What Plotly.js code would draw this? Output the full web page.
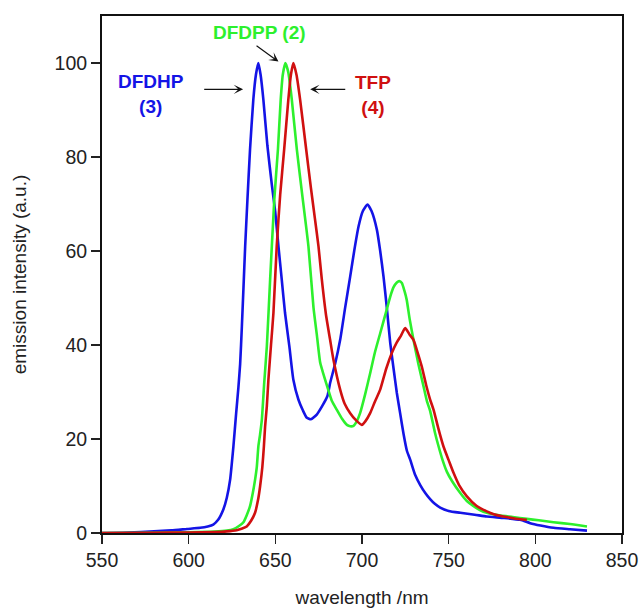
<!DOCTYPE html>
<html>
<head>
<meta charset="utf-8">
<script src="https://cdn.plot.ly/plotly-3.0.1.min.js"></script>
<style>html,body{margin:0;padding:0;background:#fff;}#chart{width:640px;height:608px;}</style>
</head>
<body>
<div id="chart"></div>
<script>
// DFDHP (3) - blue
const dfdhpX = [550,565,580,590,599,606.6,611,614.2,617,620,622,623.9,625.8,627.4,628.7,629.7,630.7,631.6,632.6,633.9,635.4,637.3,638.8,640.2,641.5,643.1,645.4,648,649.9,651.8,653.7,655.6,658.1,660.4,663.3,666,668.2,670.5,673.9,677,680,681.6,684.5,687.4,690.3,693.2,695.5,698,700.5,703.2,705.5,708.6,710.5,712.4,714.3,716.3,718.2,720.1,722,724,725.9,727.8,730.5,733.6,736.5,739.3,742,745.1,750,756.7,765,772,782,791.3,797,803,810.5,820,829.8];
const dfdhpY = [0,0.1,0.35,0.55,0.85,1.1,1.4,1.8,2.8,5,7.5,11.3,18.4,25.5,31,36,44,52,61,70.9,81.6,92.2,97.5,100,97.5,92.2,82.5,74,68.5,61,53.9,46.8,39.7,32.6,28.4,26,24.5,24.2,25.2,27,29.1,31.9,36,41.1,48,54.6,60,65.2,68.5,69.9,68.5,64.5,60,54.6,48,40.4,35,29.8,25.5,21,17.5,15.6,12.5,10.2,8.5,7.2,6.2,5.4,4.7,4.3,3.9,3.5,3.2,2.8,2.1,1.6,1.1,0.8,0.5];

// DFDPP (2) - green
const dfdppX = [550,580,600,615,622,625.8,629,631.6,633.5,635.4,637,638.3,639.3,640.2,641.2,642.2,643.6,645.1,647,649.4,651.5,653.1,654.3,655.8,657.5,659.5,662.4,665.5,669.1,672,674,675.9,678,680.5,682.5,685.5,688.5,691.3,693.2,695.1,697,698.9,701.8,704.7,707.5,710.5,713.5,716.3,718.2,720.1,721.5,723,724.5,725.8,727.5,729.7,732.5,735.5,737.5,739.3,742,744.2,746.5,749,752,756.7,760.5,764.4,768,772,780,787,795.1,802,810.5,820,829.8];
const dfdppY = [0,0.05,0.15,0.3,0.5,0.8,1.5,2.3,3.8,5.7,8.5,11.3,14,18.4,21,24,32,39.7,53.9,70.9,81.6,92.2,97.5,100,98,92.2,81.6,72,61,48,42,36.2,33.5,30.5,28.2,26.2,24.3,23,22.7,22.8,23.8,25.5,29.5,34,38.5,42.5,46.5,50.3,52.3,53.3,53.6,53.2,51.5,49.6,45.5,41.1,36,31.2,28,26,21.5,18.4,15.5,13,11,8.5,6.8,5.7,4.9,4.3,3.7,3.4,3,2.7,2.3,1.9,1.4];

// TFP (4) - red
const tfpX = [550,580,600,615,622,627.7,630.5,633.5,636,638.3,640,641.2,642.5,643.4,644.1,645.1,646,647.5,648.9,650.8,652.8,655.1,657.5,659,660.4,662.2,664.3,667.8,670.5,672.8,674.9,676.8,679.2,681.6,683.5,687.4,690,693.2,696.5,699.9,702,704.7,707.5,710.5,714,717.2,720,722.5,724.9,727.5,729.7,732,734.5,737,739.3,741.3,744,747,750,752.8,756,760.5,766,772,776,781.6,788,795.1];
const tfpY = [0,0.05,0.1,0.2,0.35,0.6,0.9,1.4,2.6,4.3,7,9.9,14,18.4,22.7,27,32.6,40,46.8,61,72,81.6,92.2,97.5,100,97.5,92.2,81.6,73.5,67,61,54,46.5,41.1,36.9,30.5,27.5,25.5,24,23,23.8,25.5,28,30.5,35,38.3,40.5,42,43.6,42.2,41.1,38.5,35.4,31.5,28.4,26.2,22.3,18.4,15.5,12.8,10.2,7.8,5.8,4.6,4,3.5,3.1,2.8];

const xTicks = [550,600,650,700,750,800,850];
const yTicks = [0,20,40,60,80,100];

const BLUE = '#1414e6', GREEN = '#2df02d', RED = '#d01010';
const font = 'Liberation Sans, Arial, sans-serif';

const lineStyle = (c) => ({color: c, width: 2.6, shape: 'spline', smoothing: 0.5});
const traces = [
  {x: dfdhpX, y: dfdhpY, mode: 'lines', line: lineStyle(BLUE), name: 'DFDHP (3)'},
  {x: dfdppX, y: dfdppY, mode: 'lines', line: lineStyle(GREEN), name: 'DFDPP (2)'},
  {x: tfpX, y: tfpY, mode: 'lines', line: lineStyle(RED), name: 'TFP (4)'}
];

const arrowCommon = {xref: 'x', yref: 'y', axref: 'x', ayref: 'y', showarrow: true, arrowhead: 3, arrowsize: 1.3, arrowwidth: 1.2, arrowcolor: '#111', text: ''};

const layout = {
  width: 640, height: 608,
  margin: {l: 102, r: 18, t: 16, b: 75},
  paper_bgcolor: '#fff', plot_bgcolor: '#fff',
  showlegend: false,
  font: {family: font, size: 19, color: '#222'},
  xaxis: {
    range: [550, 850], tickvals: xTicks, ticks: 'outside', ticklen: 9, tickwidth: 1.5, tickcolor: '#222',
    showline: true, mirror: true, linewidth: 2, linecolor: '#111', showgrid: false, zeroline: false,
    tickfont: {size: 19.5, color: '#222'},
    title: {text: 'wavelength /nm', font: {size: 19, color: '#222'}, standoff: 26}
  },
  yaxis: {
    range: [0, 110], tickvals: yTicks, ticks: 'outside', ticklen: 9, tickwidth: 1.5, tickcolor: '#222',
    showline: true, mirror: true, linewidth: 2, linecolor: '#111', showgrid: false, zeroline: false,
    tickfont: {size: 19.5, color: '#222'},
    title: {text: 'emission intensity (a.u.)', font: {size: 19, color: '#222'}, standoff: 23}
  },
  annotations: [
    {xref: 'x', yref: 'y', x: 578.3, y: 93.3, text: '<b>DFDHP</b><br><b>(3)</b>', showarrow: false, font: {size: 19, color: BLUE, family: font}},
    {xref: 'x', yref: 'y', x: 640.9, y: 106.4, text: '<b>DFDPP (2)</b>', showarrow: false, font: {size: 19, color: GREEN, family: font}},
    {xref: 'x', yref: 'y', x: 706.6, y: 93.1, text: '<b>TFP</b><br><b>(4)</b>', showarrow: false, font: {size: 19, color: RED, family: font}},
    Object.assign({}, arrowCommon, {x: 631.4, y: 94.4, ax: 608.1, ay: 94.4}),
    Object.assign({}, arrowCommon, {x: 651.8, y: 100.3, ax: 638.3, ay: 103.9}),
    Object.assign({}, arrowCommon, {x: 670.1, y: 94.4, ax: 691.2, ay: 94.4})
  ]
};

Plotly.newPlot('chart', traces, layout, {displayModeBar: false, staticPlot: true});
</script>
</body>
</html>
